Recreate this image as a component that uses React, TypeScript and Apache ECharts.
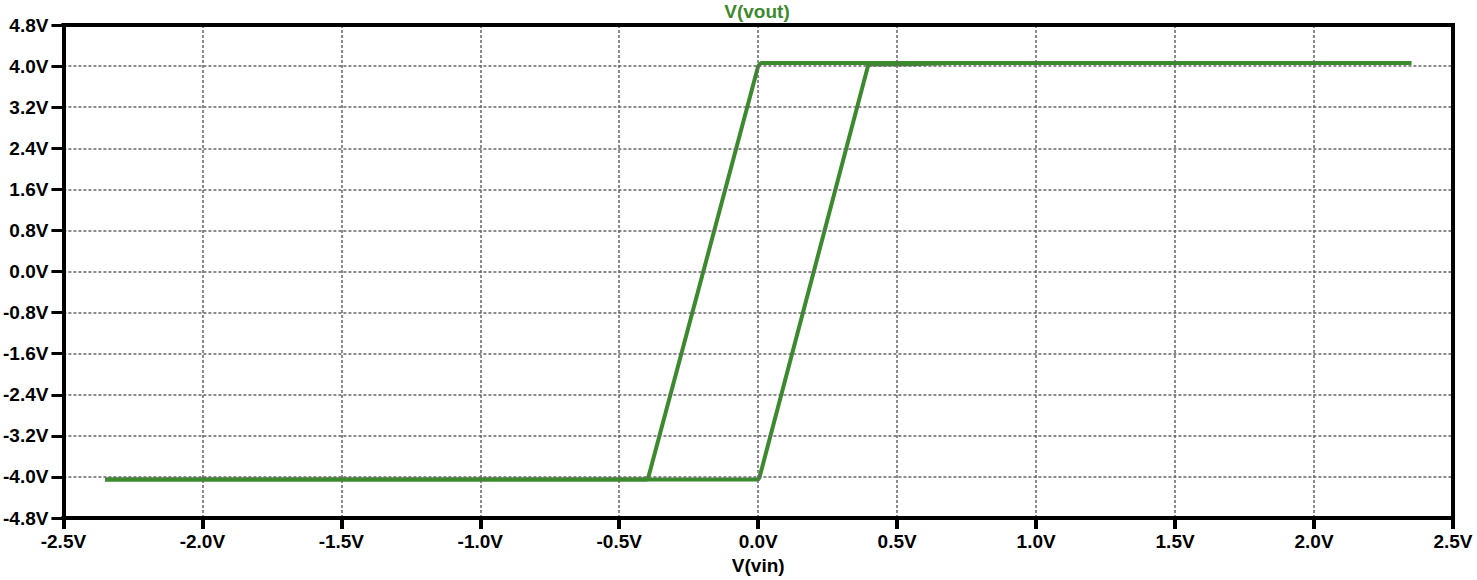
import React, { useEffect, useRef } from "react";
import * as echarts from "echarts";

// Sweep up: vin rising from -2.35V to 2.35V
const sweepUpX = [-2.35, 0.0, 0.005, 0.395, 0.4, 0.55, 0.7, 2.35];
const sweepUpY = [-4.05, -4.05, -4.0, 4.0, 4.03, 4.035, 4.06, 4.06];
// Sweep down: vin falling from 2.35V to -2.35V
const sweepDownX = [2.35, 0.01, 0.0, -0.395, -0.4, -2.35];
const sweepDownY = [4.06, 4.06, 4.0, -4.0, -4.05, -4.05];

const xTicks = { min: -2.5, max: 2.5, interval: 0.5 };
const yTicks = { min: -4.8, max: 4.8, interval: 0.8 };

const titleText = "V(vout)";
const xName = "V(vin)";

const green = "#3c8a2e";
const font = "'Liberation Sans', Arial, sans-serif";

export default function App() {
  const ref = useRef<HTMLDivElement>(null);
  useEffect(() => {
    if (!ref.current) return;
    const chart = echarts.init(ref.current, undefined, { renderer: "svg" });
    const up = sweepUpX.map((x, i) => [x, sweepUpY[i]]);
    const down = sweepDownX.map((x, i) => [x, sweepDownY[i]]);
    const fmt = (v: number) => (Math.abs(v) < 1e-9 ? 0 : v).toFixed(1) + "V";
    const frameAxis = {
      type: "value",
      axisLine: { show: true, onZero: false, lineStyle: { color: "#000", width: 4, cap: "square" } },
      axisTick: { show: false },
      axisLabel: { show: false },
      splitLine: { show: false },
      z: 10,
    };
    chart.setOption({
      animation: false,
      backgroundColor: "#ffffff",
      title: {
        text: titleText,
        left: 757,
        textAlign: "center",
        top: 2,
        padding: 0,
        textStyle: {
          color: green,
          fontFamily: font,
          fontWeight: "bold",
          fontSize: 19,
        },
      },
      grid: {
        left: 60,
        right: 24,
        top: 25,
        bottom: 62,
        show: false,
      },
      xAxis: [
        {
          type: "value",
          min: xTicks.min,
          max: xTicks.max,
          interval: xTicks.interval,
          name: xName,
          nameLocation: "middle",
          nameGap: 35,
          nameTextStyle: {
            color: "#000",
            fontFamily: font,
            fontWeight: "bold",
            fontSize: 19,
          },
          z: 10,
          axisLine: { show: true, onZero: false, lineStyle: { color: "#000", width: 4, cap: "square" } },
          axisTick: {
            show: true,
            length: 11,
            lineStyle: { color: "#000", width: 4 },
          },
          axisLabel: {
            margin: 14,
            color: "#000",
            fontFamily: font,
            fontWeight: "bold",
            fontSize: 19,
            formatter: fmt,
          },
          splitLine: {
            show: true,
            lineStyle: { color: "#666", width: 1.5, type: [3, 2] },
          },
        },
        {
          ...frameAxis,
          position: "top",
          min: xTicks.min,
          max: xTicks.max,
          interval: xTicks.interval,
        },
      ],
      yAxis: [
        {
          type: "value",
          min: yTicks.min,
          max: yTicks.max,
          interval: yTicks.interval,
          z: 10,
          axisLine: { show: true, onZero: false, lineStyle: { color: "#000", width: 4, cap: "square" } },
          axisTick: {
            show: true,
            length: 12,
            lineStyle: { color: "#000", width: 3 },
          },
          axisLabel: {
            margin: 15,
            color: "#000",
            fontFamily: font,
            fontWeight: "bold",
            fontSize: 19,
            formatter: fmt,
          },
          splitLine: {
            show: true,
            lineStyle: { color: "#666", width: 1.5, type: [3, 2] },
          },
        },
        {
          ...frameAxis,
          position: "right",
          min: yTicks.min,
          max: yTicks.max,
          interval: yTicks.interval,
        },
      ],
      series: [
        {
          type: "line",
          data: up,
          showSymbol: false,
          lineStyle: { color: green, width: 4 },
          itemStyle: { color: green },
        },
        {
          type: "line",
          data: down,
          showSymbol: false,
          lineStyle: { color: green, width: 4 },
          itemStyle: { color: green },
        },
      ],
    });
    return () => chart.dispose();
  }, []);
  return (
    <div
      ref={ref}
      style={{ position: "fixed", left: 0, top: 0, width: 1477, height: 580 }}
    />
  );
}
